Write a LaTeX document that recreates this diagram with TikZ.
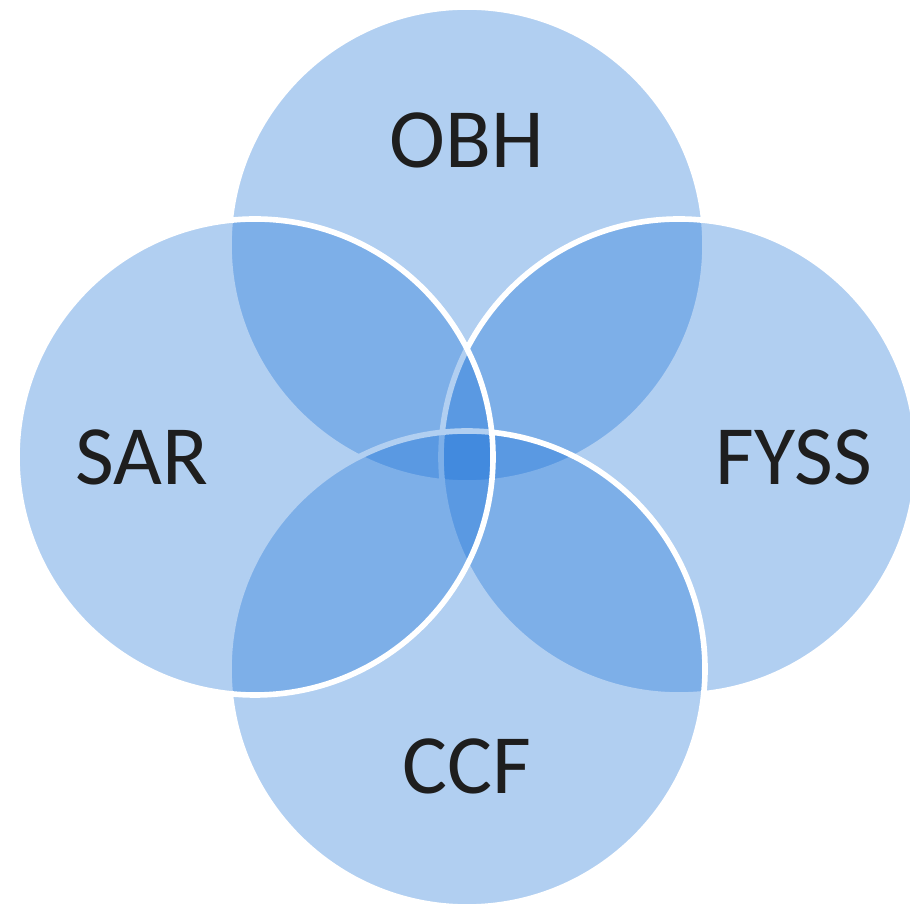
\documentclass[tikz,border=0pt]{standalone}
\usepackage{fontspec}
\setmainfont{Carlito}
\usepackage{tikz}
\usetikzlibrary{positioning,calc}

\definecolor{vennblue}{RGB}{20,110,215}
\definecolor{labelgray}{RGB}{30,30,30}

\begin{document}
\begin{tikzpicture}[
			set/.style={
					circle, draw=white, line width=1.6pt,
					fill=vennblue, fill opacity=0.33,
					minimum size=4.76cm, inner sep=0pt
				},
			setlabel/.style={
					text=labelgray, text opacity=1,
					font=\fontsize{24}{28}\selectfont
				}
		]

		% Canvas
		\fill[white] (0,0) rectangle (9.1,9.15);
		\useasboundingbox (0,0) rectangle (9.1,9.15);

		% Centre of the four sets
		\coordinate (mid) at (4.67,4.58);

		% Sets, back to front
		\node[set] (obh)  at ($(mid)+(0,2.12)$)  {};
		\node[set] (fyss) at ($(mid)+(2.12,0)$)  {};
		\node[set] (ccf)  at ($(mid)+(0,-2.12)$) {};
		\node[set] (sar)  at ($(mid)+(-2.12,0)$) {};

		% Labels
		\node[setlabel] (obhlabel)  at ([yshift=1.05cm]obh.center)   {OBH};
		\node[setlabel] (fysslabel) at ([xshift=1.15cm]fyss.center)  {FYSS};
		\node[setlabel] (ccflabel)  at ([yshift=-0.97cm]ccf.center)  {CCF};
		\node[setlabel] (sarlabel)  at ([xshift=-1.13cm]sar.center)  {SAR};

	\end{tikzpicture}
\end{document}
